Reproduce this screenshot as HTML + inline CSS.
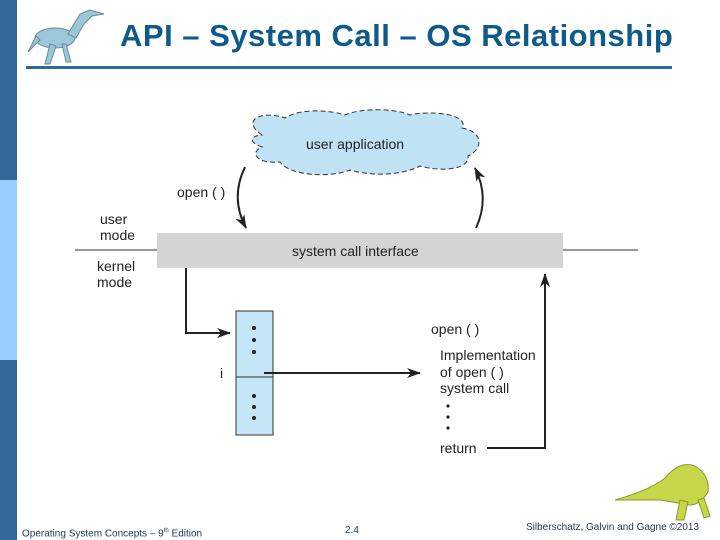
<!DOCTYPE html>
<html><head><style>
body{margin:0;width:720px;height:540px;background:#fff;position:relative;overflow:hidden;font-family:"Liberation Sans",sans-serif}
.t{position:absolute;font-size:14px;color:#222;white-space:nowrap;line-height:16px}
</style></head><body>
<div style="position:absolute;left:0;top:0;width:17px;height:180px;background:#336699"></div>
<div style="position:absolute;left:0;top:180px;width:17px;height:180px;background:#99ccff"></div>
<div style="position:absolute;left:0;top:360px;width:17px;height:180px;background:#336699"></div>
<div style="position:absolute;left:120px;top:18px;font-size:31px;font-weight:bold;color:#0e5a8a;white-space:nowrap;letter-spacing:0.5px">API – System Call – OS Relationship</div>
<div style="position:absolute;left:26px;top:66px;width:646px;height:3px;background:#336699"></div>
<svg width="720" height="540" style="position:absolute;left:0;top:0">
<defs><marker id="a" markerWidth="14" markerHeight="10" refX="13" refY="5" orient="auto" markerUnits="userSpaceOnUse"><path d="M0,0 L14,5 L0,10 L4,5z" fill="#222"/></marker></defs>
<g fill="#9cc7d8" stroke="#6a8a9a" stroke-width="1"><ellipse cx="55" cy="38" rx="20" ry="10"/><path d="M68,34 L80,14 L90,10 L104,14 L92,16 L84,24 L76,38z"/><path d="M50,44 L45,64 L50,64 L56,46z M62,44 L66,62 L71,62 L66,44z"/><path d="M36,36 L28,52 L40,40z"/></g>
<g fill="#c8d64a" stroke="#8a9a2a" stroke-width="1"><path d="M615,500 Q650,490 665,478 Q680,460 695,466 Q710,475 708,492 Q700,505 690,505 L660,500z"/><path d="M680,500 L676,520 L684,520 L688,502z M698,500 L704,518 L710,516 L704,498z"/></g>
<path d="M262,135 C240,120 262,110 285,118 C300,108 330,110 345,115 C360,108 395,108 410,115 C430,110 470,114 462,128 C485,132 482,150 468,156 C470,170 440,172 420,166 C400,176 370,176 350,170 C330,178 290,176 280,162 C255,164 250,152 262,147 C248,142 250,136 262,135z" fill="#bfe3f5" stroke="#333" stroke-width="1" stroke-dasharray="5,3"/>
<rect x="157" y="233" width="406" height="35" fill="#d4d4d4"/>
<line x1="75" y1="250" x2="157" y2="250" stroke="#333"/>
<line x1="563" y1="250" x2="638" y2="250" stroke="#333"/>
<path d="M245,167 Q230,198 246,228" fill="none" stroke="#222" stroke-width="2" marker-end="url(#a)"/>
<path d="M476,228 Q490,198 475,168" fill="none" stroke="#222" stroke-width="2" marker-end="url(#a)"/>
<path d="M186,268 L186,333 L230,333" fill="none" stroke="#222" stroke-width="2" marker-end="url(#a)"/>
<rect x="236" y="311" width="37" height="124" fill="#c5e6f7" stroke="#333"/>
<line x1="236" y1="377" x2="273" y2="377" stroke="#333"/>
<g fill="#222"><circle cx="254" cy="328" r="2"/><circle cx="254" cy="340" r="2"/><circle cx="254" cy="352" r="2"/><circle cx="254" cy="396" r="2"/><circle cx="254" cy="407" r="2"/><circle cx="254" cy="418" r="2"/>
<circle cx="448" cy="406" r="1.6"/><circle cx="448" cy="417" r="1.6"/><circle cx="448" cy="428" r="1.6"/></g>
<line x1="264" y1="373" x2="420" y2="373" stroke="#222" stroke-width="2" marker-end="url(#a)"/>
<path d="M487,448 L545,448 L545,274" fill="none" stroke="#222" stroke-width="2" marker-end="url(#a)"/>
</svg>
<div class="t" style="left:306px;top:136px">user application</div>
<div class="t" style="left:177px;top:184px">open ( )</div>
<div class="t" style="left:100px;top:211px;line-height:16px">user<br>mode</div>
<div class="t" style="left:97px;top:258px;line-height:16px">kernel<br>mode</div>
<div class="t" style="left:292px;top:243px">system call interface</div>
<div class="t" style="left:220px;top:365px">i</div>
<div class="t" style="left:431px;top:321px">open ( )</div>
<div class="t" style="left:440px;top:347px;line-height:16.5px">Implementation<br>of open ( )<br>system call</div>
<div class="t" style="left:440px;top:440px">return</div>
<div class="t" style="left:22px;top:525px;font-size:10px;line-height:12px;color:#1a3a5a">Operating System Concepts – 9<sup style="font-size:6px">th</sup> Edition</div>
<div class="t" style="left:345px;top:525px;font-size:10px;line-height:12px;color:#1a3a5a">2.4</div>
<div class="t" style="left:526px;top:522px;font-size:10px;line-height:12px;color:#1a3a5a">Silberschatz, Galvin and Gagne ©2013</div>
</body></html>
